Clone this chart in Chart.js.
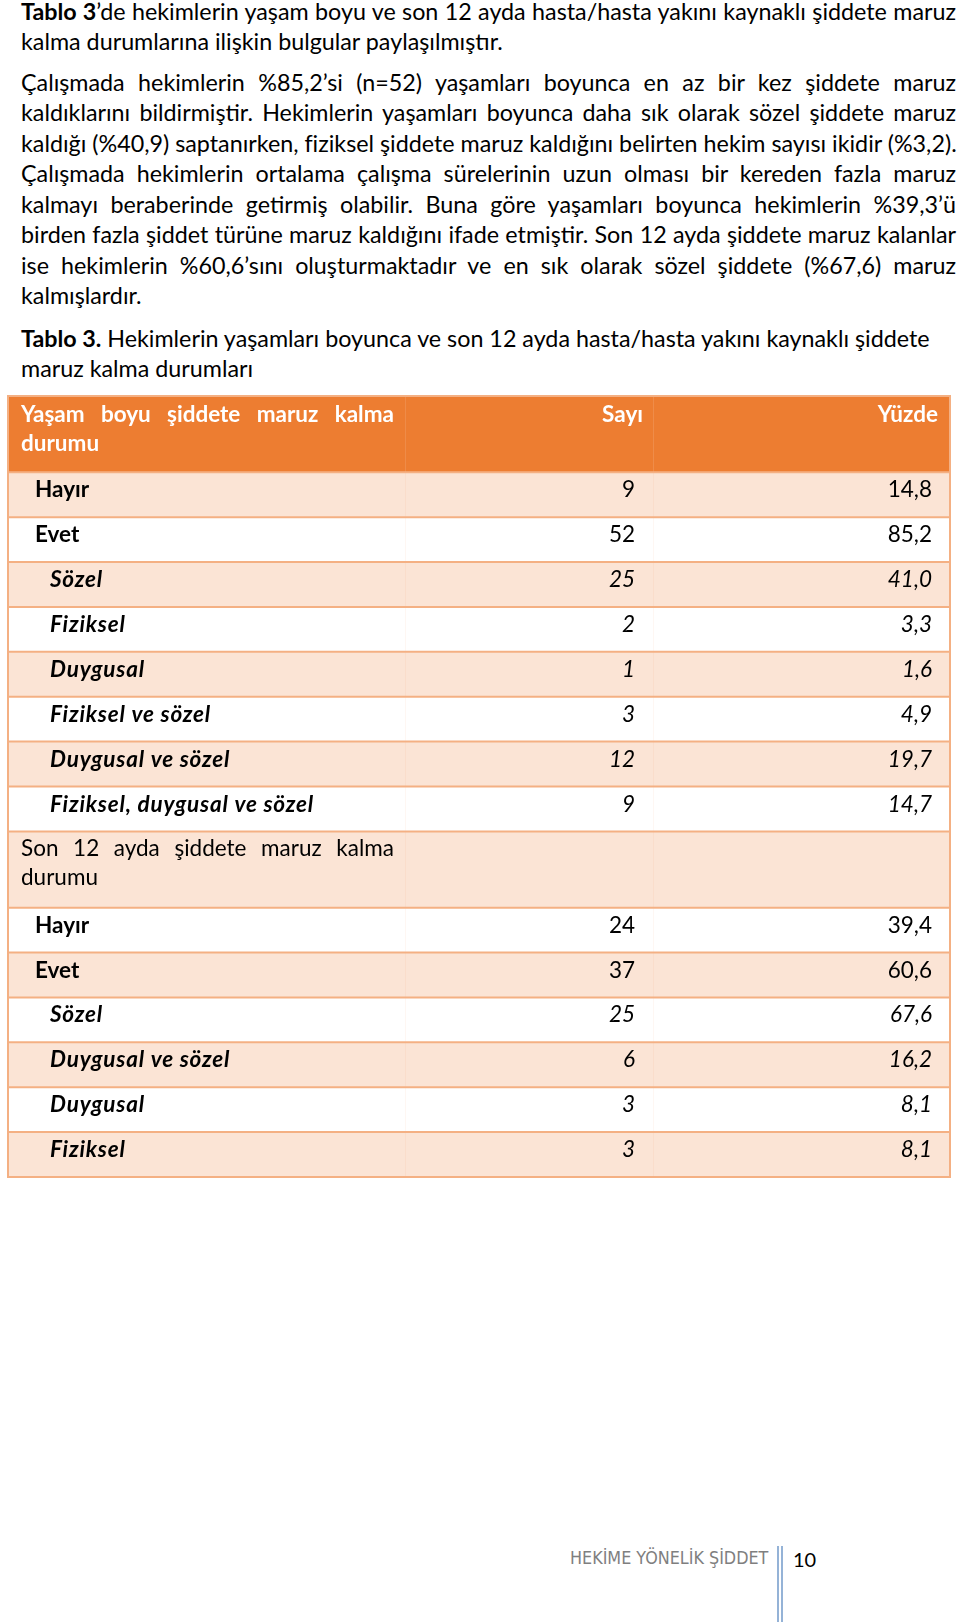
<!DOCTYPE html>
<html lang="tr">
<head>
<meta charset="utf-8">
<title>Tablo 3</title>
<script src="https://cdn.jsdelivr.net/npm/chart.js@4.4.1/dist/chart.umd.min.js"></script>
<style>
html, body { margin: 0; padding: 0; background: #fff; }
#page { position: relative; width: 960px; height: 1622px; overflow: hidden; font-family: Lato, "Open Sans", sans-serif; color: #000; }
.par { position: absolute; left: 21px; width: 935px; font-size: 23.3px; line-height: 30.45px; }
.ln { white-space: nowrap; height: 30.45px; }
#tableCanvas { position: absolute; left: 0; top: 390px; display: block; }
#footer { position: absolute; left: 570px; top: 1549px; font-family: "DejaVu Sans Condensed", "Liberation Sans Narrow", sans-serif; font-stretch: condensed; font-size: 17.8px; line-height: 17.8px; color: #7f7f7f; white-space: nowrap; }
#rule { position: absolute; left: 777px; top: 1546px; width: 2px; height: 76px; border-left: 2px solid #95b3d7; border-right: 2px solid #95b3d7; }
#pageNo { position: absolute; left: 793px; top: 1549px; font-size: 20px; line-height: 20px; }
</style>
</head>
<body>
<div id="page">
  <div class="par" style="top:-4px">
    <div class="ln j"><span><b>Tablo 3</b>’de hekimlerin yaşam boyu ve son 12 ayda hasta/hasta yakını kaynaklı şiddete maruz</span></div>
    <div class="ln"><span>kalma durumlarına ilişkin bulgular paylaşılmıştır.</span></div>
  </div>
  <div class="par" style="top:67px">
    <div class="ln j"><span>Çalışmada hekimlerin %85,2’si (n=52) yaşamları boyunca en az bir kez şiddete maruz</span></div>
    <div class="ln j"><span>kaldıklarını bildirmiştir. Hekimlerin yaşamları boyunca daha sık olarak sözel şiddete maruz</span></div>
    <div class="ln"><span>kaldığı (%40,9) saptanırken, fiziksel şiddete maruz kaldığını belirten hekim sayısı ikidir (%3,2).</span></div>
    <div class="ln j"><span>Çalışmada hekimlerin ortalama çalışma sürelerinin uzun olması bir kereden fazla maruz</span></div>
    <div class="ln j"><span>kalmayı beraberinde getirmiş olabilir. Buna göre yaşamları boyunca hekimlerin %39,3’ü</span></div>
    <div class="ln j"><span>birden fazla şiddet türüne maruz kaldığını ifade etmiştir. Son 12 ayda şiddete maruz kalanlar</span></div>
    <div class="ln j"><span>ise hekimlerin %60,6’sını oluşturmaktadır ve en sık olarak sözel şiddete (%67,6) maruz</span></div>
    <div class="ln"><span>kalmışlardır.</span></div>
  </div>
  <div class="par" style="top:322.5px">
    <div class="ln"><span><b>Tablo 3.</b> Hekimlerin yaşamları boyunca ve son 12 ayda hasta/hasta yakını kaynaklı şiddete</span></div>
    <div class="ln"><span>maruz kalma durumları</span></div>
  </div>

  <canvas id="tableCanvas" width="960" height="795"></canvas>

  <div id="footer">HEKİME YÖNELİK ŞİDDET</div>
  <div id="rule"></div>
  <div id="pageNo">10</div>
</div>

<script>
// Table values
var columnTitles = ['Sayı', 'Yüzde'];
var sectionTitles = [
    ['Yaşam boyu şiddete maruz kalma', 'durumu'],
    ['Son 12 ayda şiddete maruz kalma', 'durumu']
];

var lifetimeLabels = ['Hayır', 'Evet', 'Sözel', 'Fiziksel', 'Duygusal', 'Fiziksel ve sözel', 'Duygusal ve sözel', 'Fiziksel, duygusal ve sözel'];
var lifetimeLevels = [1, 1, 2, 2, 2, 2, 2, 2];
var lifetimeCounts = [9, 52, 25, 2, 1, 3, 12, 9];
var lifetimePercents = [14.8, 85.2, 41.0, 3.3, 1.6, 4.9, 19.7, 14.7];

var lastYearLabels = ['Hayır', 'Evet', 'Sözel', 'Duygusal ve sözel', 'Duygusal', 'Fiziksel'];
var lastYearLevels = [1, 1, 2, 2, 2, 2];
var lastYearCounts = [24, 37, 25, 6, 3, 3];
var lastYearPercents = [39.4, 60.6, 67.6, 16.2, 8.1, 8.1];

// Column edges on the x scale (0..1) and row heights on the y scale (row units)
var columnEdges = [0, 0.4214, 0.6847, 1];
var tallRow = 1.7;

var orange = '#ed7d31';
var band = '#fbe4d5';
var lineColor = '#f4b083';
var fontFamily = 'Lato, "Open Sans", sans-serif';
var fontSize = 22.5;

function fmt(v) {
    return v.toFixed(1).replace('.', ',');
}

// Build the row list in order, each with its span on the y scale
var rows = [];
var pos = 0;
function addRow(row, height) {
    row.start = pos;
    row.end = pos + height;
    pos += height;
    rows.push(row);
}
addRow({type: 'head', lines: sectionTitles[0]}, tallRow);
lifetimeLabels.forEach((label, i) => {
    addRow({type: 'data', label: label, level: lifetimeLevels[i], count: lifetimeCounts[i], pct: lifetimePercents[i]}, 1);
});
addRow({type: 'section', lines: sectionTitles[1]}, tallRow);
lastYearLabels.forEach((label, i) => {
    addRow({type: 'data', label: label, level: lastYearLevels[i], count: lastYearCounts[i], pct: lastYearPercents[i]}, 1);
});
var totalUnits = pos;

function drawJustified(ctx, text, x0, x1, y) {
    var words = text.split(' ');
    var widths = words.map(w => ctx.measureText(w).width);
    var total = widths.reduce((a, b) => a + b, 0);
    var gap = (x1 - x0 - total) / (words.length - 1);
    var x = x0;
    words.forEach((w, i) => {
        ctx.fillText(w, x, y);
        x += widths[i] + gap;
    });
}

var tablePlugin = {
    id: 'tableCells',
    beforeDatasetsDraw(chart) {
        var ctx = chart.ctx;
        var xs = chart.scales.x;
        var ys = chart.scales.y;
        var cx = columnEdges.map(v => xs.getPixelForValue(v));
        var left = cx[0], right = cx[3];

        ctx.save();
        // backgrounds
        rows.forEach((row, i) => {
            var y0 = ys.getPixelForValue(row.start);
            var y1 = ys.getPixelForValue(row.end);
            if (row.type == 'head') {
                ctx.fillStyle = orange;
            } else {
                ctx.fillStyle = (i % 2 == 1) ? band : '#ffffff';
            }
            ctx.fillRect(left, y0, right - left, y1 - y0);
        });

        // faint column lines
        rows.forEach(row => {
            var y0 = ys.getPixelForValue(row.start);
            var y1 = ys.getPixelForValue(row.end);
            ctx.strokeStyle = row.type == 'head' ? 'rgba(255,255,255,0.12)' : 'rgba(237,125,49,0.06)';
            ctx.lineWidth = 1;
            [cx[1], cx[2]].forEach(x => {
                ctx.beginPath();
                ctx.moveTo(x + 0.5, y0);
                ctx.lineTo(x + 0.5, y1);
                ctx.stroke();
            });
        });

        // row borders and outline
        ctx.strokeStyle = lineColor;
        ctx.lineWidth = 2;
        rows.forEach((row, i) => {
            if (i == 0) return;
            var y = ys.getPixelForValue(row.start);
            ctx.beginPath();
            ctx.moveTo(left, y);
            ctx.lineTo(right, y);
            ctx.stroke();
        });
        ctx.strokeRect(left, ys.getPixelForValue(0), right - left, ys.getPixelForValue(totalUnits) - ys.getPixelForValue(0));

        // texts
        ctx.textBaseline = 'alphabetic';
        rows.forEach(row => {
            var top = ys.getPixelForValue(row.start);
            ctx.letterSpacing = '0px';
            if (row.type == 'head') {
                ctx.fillStyle = '#ffffff';
                ctx.font = '700 ' + fontSize + 'px ' + fontFamily;
                ctx.textAlign = 'left';
                drawJustified(ctx, row.lines[0], left + 13, cx[1] - 11, top + 25.5);
                ctx.fillText(row.lines[1], left + 13, top + 54.5);
                ctx.textAlign = 'right';
                ctx.fillText(columnTitles[0], cx[2] - 10, top + 25.5);
                ctx.fillText(columnTitles[1], right - 12, top + 25.5);
            } else if (row.type == 'section') {
                ctx.fillStyle = '#000000';
                ctx.font = '400 ' + fontSize + 'px ' + fontFamily;
                ctx.textAlign = 'left';
                drawJustified(ctx, row.lines[0], left + 13, cx[1] - 11, top + 24.5);
                ctx.fillText(row.lines[1], left + 13, top + 54);
            } else {
                var italic = row.level == 2 ? 'italic ' : '';
                ctx.fillStyle = '#000000';
                ctx.font = italic + '700 ' + fontSize + 'px ' + fontFamily;
                ctx.textAlign = 'left';
                if (row.level == 2) ctx.letterSpacing = '0.8px';
                ctx.fillText(row.label, left + (row.level == 2 ? 42 : 27), top + 25);
                ctx.letterSpacing = '0px';
                ctx.font = italic + '400 ' + fontSize + 'px ' + fontFamily;
                ctx.textAlign = 'right';
                ctx.fillText(String(row.count), cx[2] - 18, top + 25);
                ctx.fillText(fmt(row.pct), right - 18, top + 25);
            }
        });
        ctx.restore();
    }
};

var tableChart = new Chart(document.getElementById('tableCanvas'), {
    type: 'scatter',
    data: { datasets: [] },
    options: {
        responsive: false,
        animation: false,
        events: [],
        layout: { padding: { left: 8, right: 10, top: 6, bottom: 8 } },
        plugins: { legend: { display: false }, tooltip: { enabled: false } },
        scales: {
            x: { type: 'linear', display: false, min: 0, max: 1 },
            y: { type: 'linear', display: false, min: 0, max: totalUnits, reverse: true }
        }
    },
    plugins: [tablePlugin]
});

// Justify the full lines of the body text
function justifyLines() {
    document.querySelectorAll('.j').forEach(el => {
        var span = el.firstElementChild;
        span.style.wordSpacing = '0px';
        var natural = span.getBoundingClientRect().width;
        var spaces = (span.textContent.match(/ /g) || []).length;
        var extra = (el.clientWidth - natural) / spaces;
        span.style.wordSpacing = extra + 'px';
    });
}
justifyLines();
if (document.fonts) {
    document.fonts.ready.then(() => {
        justifyLines();
        tableChart.update();
    });
}
</script>
</body>
</html>
